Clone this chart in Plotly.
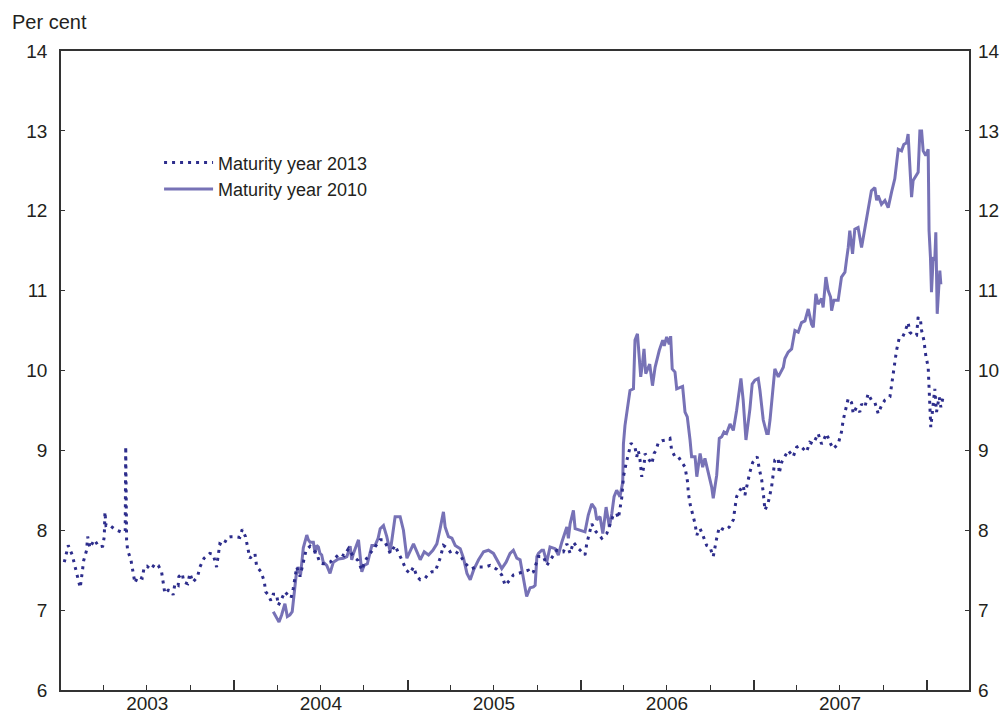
import pandas as pd
import plotly.graph_objects as go

# Yields, per cent, by decimal year
t_2013 = [
    2003.019, 2003.042, 2003.065, 2003.081, 2003.096, 2003.111, 2003.123, 2003.131, 2003.148, 2003.154,
    2003.167, 2003.192, 2003.202, 2003.219, 2003.241, 2003.250, 2003.254, 2003.260, 2003.277, 2003.312,
    2003.346, 2003.360, 2003.371, 2003.374, 2003.379, 2003.385, 2003.404, 2003.417, 2003.427, 2003.444,
    2003.469, 2003.481, 2003.497, 2003.520, 2003.543, 2003.562, 2003.581, 2003.591, 2003.600, 2003.620,
    2003.639, 2003.648, 2003.658, 2003.677, 2003.681, 2003.700, 2003.710, 2003.732, 2003.745, 2003.762,
    2003.789, 2003.803, 2003.827, 2003.860, 2003.879, 2003.899, 2003.908, 2003.918, 2003.937, 2003.962,
    2003.982,
    2004.005, 2004.033, 2004.047, 2004.066, 2004.078, 2004.091, 2004.120, 2004.130, 2004.155, 2004.174,
    2004.182, 2004.197, 2004.212, 2004.226, 2004.245, 2004.255, 2004.276, 2004.293, 2004.309, 2004.328,
    2004.341, 2004.351, 2004.361, 2004.380, 2004.397, 2004.415, 2004.438, 2004.476, 2004.495, 2004.514,
    2004.553, 2004.582, 2004.611, 2004.634, 2004.659, 2004.688, 2004.715, 2004.736, 2004.755, 2004.784,
    2004.813, 2004.842, 2004.861, 2004.882, 2004.900, 2004.928, 2004.946, 2004.967, 2004.992,
    2005.015, 2005.034, 2005.054, 2005.073, 2005.102, 2005.119, 2005.140, 2005.159, 2005.188, 2005.207,
    2005.227, 2005.246, 2005.265, 2005.285, 2005.304, 2005.327, 2005.352, 2005.371, 2005.396, 2005.419,
    2005.448, 2005.477, 2005.516, 2005.544, 2005.564, 2005.592, 2005.611, 2005.640, 2005.667, 2005.698,
    2005.708, 2005.727, 2005.756, 2005.785, 2005.804, 2005.833, 2005.862, 2005.900, 2005.920, 2005.939,
    2005.958, 2005.987,
    2006.025, 2006.035, 2006.054, 2006.064, 2006.089, 2006.122, 2006.151, 2006.170, 2006.187, 2006.208,
    2006.218, 2006.237, 2006.247, 2006.262, 2006.275, 2006.291, 2006.314, 2006.324, 2006.333, 2006.343,
    2006.353, 2006.366, 2006.372, 2006.389, 2006.411, 2006.424, 2006.435, 2006.449, 2006.470, 2006.497,
    2006.516, 2006.526, 2006.545, 2006.564, 2006.589, 2006.603, 2006.618, 2006.622, 2006.632, 2006.647,
    2006.661, 2006.671, 2006.690, 2006.709, 2006.728, 2006.747, 2006.766, 2006.786, 2006.801, 2006.815,
    2006.834, 2006.859, 2006.882, 2006.891, 2006.901, 2006.920, 2006.939, 2006.949, 2006.968, 2006.978,
    2006.994,
    2007.020, 2007.032, 2007.046, 2007.055, 2007.065, 2007.084, 2007.103, 2007.113, 2007.122, 2007.142,
    2007.147, 2007.161, 2007.180, 2007.199, 2007.228, 2007.248, 2007.267, 2007.284, 2007.305, 2007.324,
    2007.344, 2007.372, 2007.392, 2007.421, 2007.440, 2007.459, 2007.488, 2007.507, 2007.517, 2007.532,
    2007.546, 2007.565, 2007.575, 2007.594, 2007.613, 2007.623, 2007.642, 2007.661, 2007.680, 2007.700,
    2007.719, 2007.738, 2007.758, 2007.787, 2007.796, 2007.806, 2007.815, 2007.825, 2007.840, 2007.860,
    2007.873, 2007.883, 2007.892, 2007.902, 2007.921, 2007.941, 2007.950, 2007.964, 2007.970, 2007.983,
    2007.994,
    2008.008, 2008.012, 2008.017, 2008.023, 2008.033, 2008.046, 2008.056, 2008.071, 2008.081, 2008.092,
]
y_2013 = [
    7.60, 7.81, 7.69, 7.55, 7.42, 7.28, 7.48, 7.62, 7.75, 7.92,
    7.78, 7.88, 7.85, 7.79, 7.80, 7.92, 8.23, 8.06, 8.07, 8.01,
    7.98, 7.97, 7.99, 9.05, 7.88, 7.75, 7.63, 7.48, 7.34, 7.42,
    7.40, 7.54, 7.55, 7.51, 7.58, 7.56, 7.48, 7.34, 7.21, 7.25,
    7.24, 7.19, 7.33, 7.31, 7.42, 7.46, 7.35, 7.33, 7.46, 7.35,
    7.42, 7.54, 7.65, 7.71, 7.70, 7.54, 7.70, 7.83, 7.81, 7.91,
    7.92,
    7.92, 7.91, 8.01, 7.92, 7.78, 7.65, 7.71, 7.55, 7.48, 7.36,
    7.23, 7.19, 7.12, 7.20, 7.20, 7.06, 7.15, 7.23, 7.19, 7.15,
    7.27, 7.42, 7.54, 7.42, 7.60, 7.75, 7.80, 7.71, 7.59, 7.58,
    7.60, 7.65, 7.71, 7.68, 7.77, 7.67, 7.62, 7.50, 7.62, 7.71,
    7.80, 7.88, 7.88, 7.80, 7.71, 7.81, 7.72, 7.63, 7.50,
    7.46, 7.54, 7.42, 7.38, 7.40, 7.45, 7.48, 7.48, 7.65, 7.81,
    7.78, 7.73, 7.75, 7.72, 7.69, 7.60, 7.54, 7.52, 7.54, 7.54,
    7.54, 7.56, 7.51, 7.44, 7.31, 7.38, 7.44, 7.46, 7.48, 7.50,
    7.46, 7.48, 7.67, 7.67, 7.56, 7.65, 7.75, 7.73, 7.83, 7.71,
    7.85, 7.77,
    7.69, 7.83, 7.98, 8.08, 7.98, 7.90, 7.96, 8.08, 8.18, 8.21,
    8.15, 8.40, 8.67, 8.83, 8.96, 9.09, 9.04, 8.92, 9.00, 8.88,
    8.67, 8.81, 8.96, 8.90, 8.83, 8.96, 9.00, 9.10, 9.12, 9.13,
    9.15, 9.00, 8.92, 8.92, 8.84, 8.79, 8.60, 8.47, 8.33, 8.21,
    8.08, 7.94, 8.02, 7.92, 7.81, 7.79, 7.67, 7.90, 8.04, 8.02,
    8.00, 8.04, 8.13, 8.27, 8.42, 8.50, 8.56, 8.44, 8.65, 8.73,
    8.85,
    8.92, 8.77, 8.63, 8.47, 8.25, 8.35, 8.54, 8.71, 8.88, 8.90,
    8.71, 8.85, 8.92, 9.00, 8.92, 9.04, 9.06, 9.02, 8.98, 9.10,
    9.08, 9.21, 9.08, 9.21, 9.10, 9.02, 9.08, 9.23, 9.38, 9.52,
    9.65, 9.60, 9.46, 9.54, 9.48, 9.58, 9.54, 9.71, 9.63, 9.60,
    9.46, 9.56, 9.63, 9.67, 9.81, 9.94, 10.08, 10.25, 10.40, 10.42,
    10.48, 10.56, 10.60, 10.48, 10.44, 10.44, 10.67, 10.62, 10.50, 10.38,
    10.19,
    10.04, 9.79, 9.54, 9.29, 9.50, 9.77, 9.48, 9.67, 9.54, 9.65,
]

t_2010 = [
    2004.226, 2004.245, 2004.259, 2004.274, 2004.293, 2004.307, 2004.322, 2004.335, 2004.347, 2004.357,
    2004.368, 2004.383, 2004.399, 2004.419, 2004.428, 2004.438, 2004.457, 2004.467, 2004.476, 2004.486,
    2004.495, 2004.505, 2004.514, 2004.534, 2004.553, 2004.572, 2004.601, 2004.630, 2004.650, 2004.669,
    2004.678, 2004.688, 2004.717, 2004.736, 2004.749, 2004.768, 2004.794, 2004.813, 2004.830, 2004.842,
    2004.861, 2004.880, 2004.900, 2004.914, 2004.928, 2004.957, 2004.976, 2004.996,
    2005.015, 2005.034, 2005.054, 2005.073, 2005.096, 2005.121, 2005.146, 2005.169, 2005.188, 2005.207,
    2005.217, 2005.236, 2005.256, 2005.275, 2005.304, 2005.323, 2005.343, 2005.362, 2005.381, 2005.410,
    2005.439, 2005.467, 2005.496, 2005.525, 2005.544, 2005.569, 2005.592, 2005.611, 2005.631, 2005.650,
    2005.669, 2005.688, 2005.708, 2005.727, 2005.737, 2005.747, 2005.756, 2005.775, 2005.785, 2005.804,
    2005.823, 2005.852, 2005.871, 2005.891, 2005.920, 2005.929, 2005.939, 2005.958, 2005.968, 2005.997,
    2006.025, 2006.044, 2006.064, 2006.083, 2006.093, 2006.112, 2006.128, 2006.147, 2006.166, 2006.180,
    2006.193, 2006.208, 2006.227, 2006.243, 2006.247, 2006.256, 2006.270, 2006.285, 2006.305, 2006.314,
    2006.328, 2006.337, 2006.347, 2006.358, 2006.366, 2006.376, 2006.399, 2006.415, 2006.430, 2006.454,
    2006.474, 2006.483, 2006.497, 2006.512, 2006.520, 2006.529, 2006.545, 2006.555, 2006.574, 2006.589,
    2006.603, 2006.616, 2006.632, 2006.641, 2006.661, 2006.671, 2006.690, 2006.705, 2006.718, 2006.737,
    2006.757, 2006.766, 2006.786, 2006.801, 2006.815, 2006.828, 2006.843, 2006.863, 2006.882, 2006.901,
    2006.911, 2006.926, 2006.939, 2006.955, 2006.978, 2006.991,
    2007.007, 2007.026, 2007.036, 2007.055, 2007.075, 2007.084, 2007.094, 2007.113, 2007.122, 2007.142,
    2007.151, 2007.171, 2007.180, 2007.199, 2007.219, 2007.238, 2007.257, 2007.276, 2007.296, 2007.315,
    2007.334, 2007.344, 2007.359, 2007.372, 2007.392, 2007.401, 2007.417, 2007.430, 2007.444, 2007.450,
    2007.463, 2007.488, 2007.507, 2007.527, 2007.537, 2007.546, 2007.555, 2007.571, 2007.584, 2007.603,
    2007.623, 2007.642, 2007.661, 2007.680, 2007.700, 2007.710, 2007.719, 2007.738, 2007.758, 2007.777,
    2007.796, 2007.815, 2007.835, 2007.854, 2007.867, 2007.883, 2007.892, 2007.902, 2007.912, 2007.921,
    2007.937, 2007.950, 2007.960, 2007.970, 2007.979, 2007.994,
    2008.008, 2008.013, 2008.021, 2008.027, 2008.037, 2008.046, 2008.052, 2008.060, 2008.069, 2008.075,
    2008.081,
]
y_2010 = [
    6.98, 6.90, 6.85, 6.94, 7.08, 6.92, 6.94, 6.98, 7.25, 7.42,
    7.54, 7.44, 7.78, 7.94, 7.88, 7.85, 7.85, 7.71, 7.81, 7.79,
    7.71, 7.69, 7.60, 7.56, 7.46, 7.60, 7.64, 7.65, 7.67, 7.80,
    7.63, 7.71, 7.88, 7.48, 7.56, 7.58, 7.81, 7.81, 7.90, 8.02,
    8.06, 7.92, 7.73, 7.95, 8.17, 8.17, 8.00, 7.65,
    7.75, 7.83, 7.73, 7.63, 7.73, 7.69, 7.75, 7.83, 8.02, 8.23,
    8.04, 7.92, 7.90, 7.81, 7.77, 7.65, 7.46, 7.38, 7.50, 7.63,
    7.73, 7.75, 7.71, 7.60, 7.52, 7.60, 7.71, 7.75, 7.65, 7.63,
    7.38, 7.17, 7.28, 7.29, 7.31, 7.67, 7.71, 7.75, 7.75, 7.60,
    7.79, 7.77, 7.69, 7.85, 8.04, 7.90, 8.08, 8.25, 8.02, 8.00,
    7.98, 8.19, 8.33, 8.27, 8.13, 8.17, 7.96, 8.29, 8.04, 8.21,
    8.42, 8.50, 8.42, 8.60, 9.08, 9.31, 9.52, 9.75, 9.77, 10.38,
    10.46, 10.19, 9.92, 10.10, 10.27, 9.96, 10.08, 9.81, 10.04, 10.25,
    10.38, 10.31, 10.42, 10.33, 10.43, 10.02, 9.98, 9.77, 9.79, 9.80,
    9.48, 9.42, 9.13, 8.92, 8.92, 8.67, 8.96, 8.79, 8.90, 8.71,
    8.54, 8.40, 8.69, 9.15, 9.17, 9.23, 9.21, 9.33, 9.25, 9.50,
    9.67, 9.90, 9.63, 9.13, 9.52, 9.83,
    9.88, 9.90, 9.75, 9.38, 9.21, 9.21, 9.38, 9.79, 10.02, 9.92,
    9.96, 10.04, 10.15, 10.23, 10.27, 10.50, 10.48, 10.60, 10.62, 10.77,
    10.58, 10.54, 10.96, 10.83, 10.90, 10.79, 11.17, 11.00, 10.92, 10.75,
    10.88, 10.88, 11.17, 11.23, 11.40, 11.54, 11.75, 11.46, 11.77, 11.79,
    11.54, 11.77, 12.00, 12.25, 12.29, 12.13, 12.19, 12.08, 12.13, 12.04,
    12.23, 12.40, 12.77, 12.75, 12.83, 12.85, 12.96, 12.63, 12.17, 12.38,
    12.44, 12.48, 13.00, 13.00, 12.75, 12.69,
    12.77, 11.75, 11.42, 10.98, 11.42, 11.38, 11.73, 10.71, 11.04, 11.25,
    11.08,
]

years = [2003, 2004, 2005, 2006, 2007]
year_labels = ["2003", "2004", "2005", "2006", "2007"]
y_ticks = [6, 7, 8, 9, 10, 11, 12, 13, 14]

SERIES_2013 = "#2d2d8c"
SERIES_2010 = "#7772b6"
AXIS = "#333333"
TEXT = "#231f20"
FONT = "Liberation Sans, Arial, Helvetica, sans-serif"


def to_dates(decimal_years):
    out = []
    for t in decimal_years:
        y = int(t)
        start = pd.Timestamp(year=y, month=1, day=1)
        end = pd.Timestamp(year=y + 1, month=1, day=1)
        out.append(start + (end - start) * (t - y))
    return out


x_range = ["2003-01-01", "2008-03-30"]
year_starts = [f"{y}-01-01" for y in years + [2008]]
mid_years = [f"{y}-07-02" for y in years]

fig = go.Figure()

fig.add_trace(go.Scatter(
    x=to_dates(t_2010), y=y_2010, mode="lines", name="Maturity year 2010",
    line=dict(color=SERIES_2010, width=3),
))
fig.add_trace(go.Scatter(
    x=to_dates(t_2013), y=y_2013, mode="lines", name="Maturity year 2013",
    line=dict(color=SERIES_2013, width=3, dash="3px,5px"),
))
# carriers for the year-label axis and the right-hand value axis
fig.add_trace(go.Scatter(x=[None], y=[None], xaxis="x2", yaxis="y",
                         showlegend=False, hoverinfo="skip"))
fig.add_trace(go.Scatter(x=[None], y=[None], xaxis="x", yaxis="y2",
                         showlegend=False, hoverinfo="skip"))

fig.update_layout(
    width=1004, height=715,
    margin=dict(l=61, r=35, t=51, b=25, autoexpand=False),
    paper_bgcolor="white", plot_bgcolor="white",
    font=dict(family=FONT, size=19, color=TEXT),
    showlegend=True,
    legend=dict(
        x=0.108, y=0.854, xanchor="left", yanchor="top",
        traceorder="reversed", font=dict(size=18, color=TEXT),
        bgcolor="rgba(0,0,0,0)", borderwidth=0, tracegroupgap=0,
        itemwidth=49,
    ),
    xaxis=dict(
        type="date", range=x_range, automargin=False,
        tickmode="array", tickvals=year_starts, ticktext=[""] * len(year_starts),
        ticks="inside", ticklen=10, tickwidth=1.5, tickcolor=AXIS,
        showline=True, linecolor=AXIS, linewidth=1.5, mirror=True,
        showgrid=False, zeroline=False,
        minor=dict(dtick="M3", tick0="2003-01-01", ticks="inside",
                   ticklen=5, tickwidth=1.2, tickcolor=AXIS, showgrid=False),
    ),
    xaxis2=dict(
        type="date", range=x_range, overlaying="x", anchor="y", side="bottom",
        automargin=False,
        tickmode="array", tickvals=mid_years, ticktext=year_labels,
        ticks="", showline=False, showgrid=False, zeroline=False,
        tickfont=dict(size=19, color=TEXT),
    ),
    yaxis=dict(
        range=[6, 14], tickmode="array", tickvals=y_ticks, automargin=False,
        ticks="inside", ticklen=4, tickwidth=1.2, tickcolor=AXIS,
        showline=True, linecolor=AXIS, linewidth=1.5, mirror=True,
        showgrid=False, zeroline=False, ticklabelstandoff=8,
        tickfont=dict(size=19, color=TEXT),
    ),
    yaxis2=dict(
        range=[6, 14], tickmode="array", tickvals=y_ticks, automargin=False,
        overlaying="y", side="right", anchor="x",
        ticks="inside", ticklen=4, tickwidth=1.2, tickcolor=AXIS,
        showline=False, showgrid=False, zeroline=False, ticklabelstandoff=8,
        tickfont=dict(size=19, color=TEXT),
    ),
    annotations=[dict(
        text="Per cent", xref="paper", yref="paper",
        x=-0.0562, y=1.0454, xanchor="left", yanchor="middle",
        showarrow=False, font=dict(size=20, color=TEXT),
    )],
)

fig.write_html("out.html")
